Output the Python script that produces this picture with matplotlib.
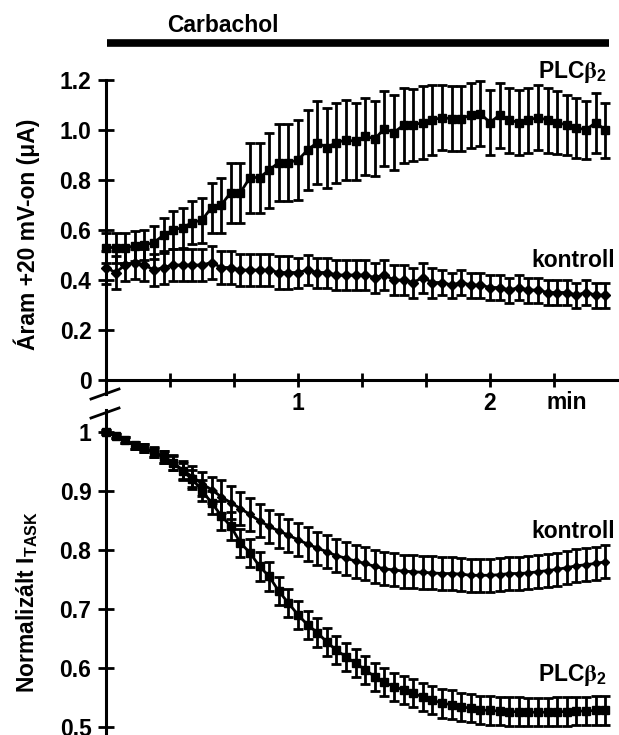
import numpy as np
import matplotlib
matplotlib.use("Agg")
import matplotlib.pyplot as plt
from matplotlib.lines import Line2D

plt.rcParams['font.family'] = ['Liberation Sans', 'DejaVu Sans']
plt.rcParams['font.weight'] = 'bold'
plt.rcParams['mathtext.fontset'] = 'stix'

# time points: every 3 s, in minutes
t = np.arange(53) * 3 / 60.0

# top panel: current at +20 mV (uA)
plc_top = [0.53, 0.53, 0.53, 0.535, 0.54, 0.55, 0.58, 0.60, 0.61, 0.63,
           0.64, 0.69, 0.70, 0.75, 0.75, 0.81, 0.81, 0.84, 0.87, 0.87,
           0.88, 0.92, 0.95, 0.93, 0.95, 0.96, 0.955, 0.975, 0.965, 1.005,
           0.99, 1.02, 1.02, 1.03, 1.04, 1.05, 1.045, 1.045, 1.06, 1.065,
           1.03, 1.06, 1.04, 1.03, 1.04, 1.05, 1.04, 1.03, 1.02, 1.01,
           1.00, 1.03, 1.00]
plc_top_err = [0.06, 0.06, 0.06, 0.06, 0.06, 0.065, 0.07, 0.075, 0.08, 0.085,
               0.09, 0.1, 0.11, 0.12, 0.12, 0.14, 0.14, 0.15, 0.155, 0.155,
               0.16, 0.16, 0.165, 0.16, 0.16, 0.16, 0.155, 0.155, 0.15, 0.15,
               0.15, 0.15, 0.145, 0.145, 0.14, 0.13, 0.13, 0.13, 0.13, 0.13,
               0.13, 0.13, 0.13, 0.13, 0.13, 0.13, 0.13, 0.125, 0.12, 0.12,
               0.115, 0.12, 0.11]
kon_top = [0.45, 0.43, 0.46, 0.47, 0.46, 0.44, 0.45, 0.46, 0.46, 0.46,
           0.46, 0.47, 0.45, 0.45, 0.44, 0.44, 0.44, 0.44, 0.43, 0.43,
           0.43, 0.44, 0.43, 0.43, 0.42, 0.42, 0.42, 0.42, 0.41, 0.42,
           0.40, 0.40, 0.39, 0.41, 0.39, 0.39, 0.38, 0.39, 0.38, 0.38,
           0.37, 0.37, 0.36, 0.37, 0.36, 0.36, 0.35, 0.35, 0.35, 0.34,
           0.35, 0.34, 0.34]
kon_top_err = [0.065] * 20 + [0.06] * 15 + [0.05] * 18

# bottom panel: normalised I_TASK
plc_bot = [1.0, 0.993, 0.986, 0.977, 0.972, 0.965, 0.957, 0.947, 0.933, 0.92,
           0.90, 0.88, 0.858, 0.84, 0.812, 0.795, 0.772, 0.755, 0.73, 0.71,
           0.69, 0.673, 0.66, 0.644, 0.63, 0.619, 0.608, 0.597, 0.585, 0.576,
           0.568, 0.563, 0.557, 0.551, 0.546, 0.54, 0.538, 0.534, 0.532, 0.529,
           0.528, 0.527, 0.526, 0.526, 0.525, 0.525, 0.525, 0.526, 0.526, 0.527,
           0.527, 0.528, 0.528]
plc_bot_err = [0.003, 0.004, 0.005, 0.006, 0.007, 0.008, 0.01, 0.012, 0.014, 0.016,
               0.018, 0.02] + [0.024] * 41
kon_bot = [1.0, 0.993, 0.986, 0.977, 0.972, 0.966, 0.958, 0.948, 0.935, 0.924,
           0.912, 0.902, 0.89, 0.88, 0.87, 0.86, 0.849, 0.84, 0.832, 0.825,
           0.817, 0.81, 0.803, 0.797, 0.79, 0.786, 0.781, 0.777, 0.772, 0.768,
           0.766, 0.764, 0.763, 0.762, 0.761, 0.76, 0.76, 0.759, 0.757, 0.757,
           0.757, 0.758, 0.76, 0.76, 0.761, 0.763, 0.765, 0.767, 0.77, 0.773,
           0.775, 0.777, 0.78]
kon_bot_err = [0.003, 0.004, 0.005, 0.006, 0.007, 0.008, 0.01, 0.012, 0.015, 0.018,
               0.02, 0.022] + [0.028] * 41

xticks = [0, 1/3, 2/3, 1, 4/3, 5/3, 2, 7/3]
xticklabels = ['', '', '', '1', '', '', '2', '']
top_yticks = [0, 0.2, 0.4, 0.6, 0.8, 1.0, 1.2]
top_yticklabels = ['0', '0.2', '0.4', '0.6', '0.8', '1.0', '1.2']
bot_yticks = [0.5, 0.6, 0.7, 0.8, 0.9, 1.0]
bot_yticklabels = ['0.5', '0.6', '0.7', '0.8', '0.9', '1']

FS = 16.5
W, H = 619, 735
fig = plt.figure(figsize=(W / 100, H / 100), dpi=100)
xmax = (619 - 106) / 192.0

ax1 = fig.add_axes([106 / W, (H - 380) / H, 513 / W, 320 / H])
ax2 = fig.add_axes([106 / W, 0, 513 / W, 325 / H])

ekw = dict(color='black', elinewidth=2, capsize=3.5, capthick=2, lw=2, clip_on=False)
ax1.errorbar(t, kon_top, yerr=kon_top_err, marker='D', ms=5, **ekw)
ax1.errorbar(t, plc_top, yerr=plc_top_err, marker='s', ms=6, **ekw)
ax2.errorbar(t, kon_bot, yerr=kon_bot_err, marker='D', ms=4.5, **ekw)
ax2.errorbar(t, plc_bot, yerr=plc_bot_err, marker='s', ms=6, **ekw)

for ax in (ax1, ax2):
    ax.set_xlim(0, xmax)
    for s in ('top', 'right'):
        ax.spines[s].set_visible(False)
    ax.spines['left'].set_linewidth(2.2)
    ax.spines['bottom'].set_linewidth(2.2)
    ax.tick_params(axis='both', direction='inout', length=11, width=2,
                   labelsize=FS, pad=5)

ax1.set_ylim(0, 1.28)
ax1.spines['left'].set_bounds(0, 1.2)
ax1.set_yticks(top_yticks)
ax1.set_yticklabels(top_yticklabels)
ax1.set_xticks(xticks)
ax1.set_xticklabels(xticklabels)
ax1.tick_params(axis='x', length=10, pad=4)
ax1.text(2.40, -0.09, 'min', ha='center', va='center', fontsize=FS, fontweight='bold')
ax1.set_ylabel('Áram +20 mV-on (μA)', fontsize=FS, fontweight='bold')
ax1.yaxis.set_label_coords(-0.128, 0.456)
beta = r'PLC$\mathrm{\beta}_{\mathregular{2}}$'
ax1.text(2.61, 1.232, beta, ha='right', va='center', fontsize=FS)
ax1.text(2.65, 0.48, 'kontroll', ha='right', va='center', fontsize=FS)

ax2.set_ylim(0.4864, 1.037)
ax2.spines['bottom'].set_visible(False)
ax2.set_xticks([])
ax2.set_yticks(bot_yticks)
ax2.set_yticklabels(bot_yticklabels)
ax2.set_ylabel(r'Normalizált I$_{\mathregular{TASK}}$', fontsize=FS, fontweight='bold')
ax2.yaxis.set_label_coords(-0.128, 0.41)
ax2.text(2.65, 0.832, 'kontroll', ha='right', va='center', fontsize=FS)
ax2.text(2.61, 0.588, beta, ha='right', va='center', fontsize=FS)

# axis break marks and carbachol bar, in figure pixels
def px(x, y):
    return x / W, 1 - y / H

for y0, y1 in ((399, 389), (418, 408)):
    (a, b), (c, d) = px(91, y0), px(119, y1)
    fig.add_artist(Line2D([a, c], [b, d], color='black', lw=2))
(a, b), (c, d) = px(106, 380), px(106, 394)
fig.add_artist(Line2D([a, c], [b, d], color='black', lw=2.2))

(a, b), (c, d) = px(107, 43), px(609, 43)
fig.add_artist(Line2D([a, c], [b, d], color='black', lw=5.5, solid_capstyle='butt'))
fig.text(223 / W, 1 - 25 / H, 'Carbachol', ha='center', va='center', fontsize=FS, fontweight='bold')

fig.savefig('out.png', dpi=100)
